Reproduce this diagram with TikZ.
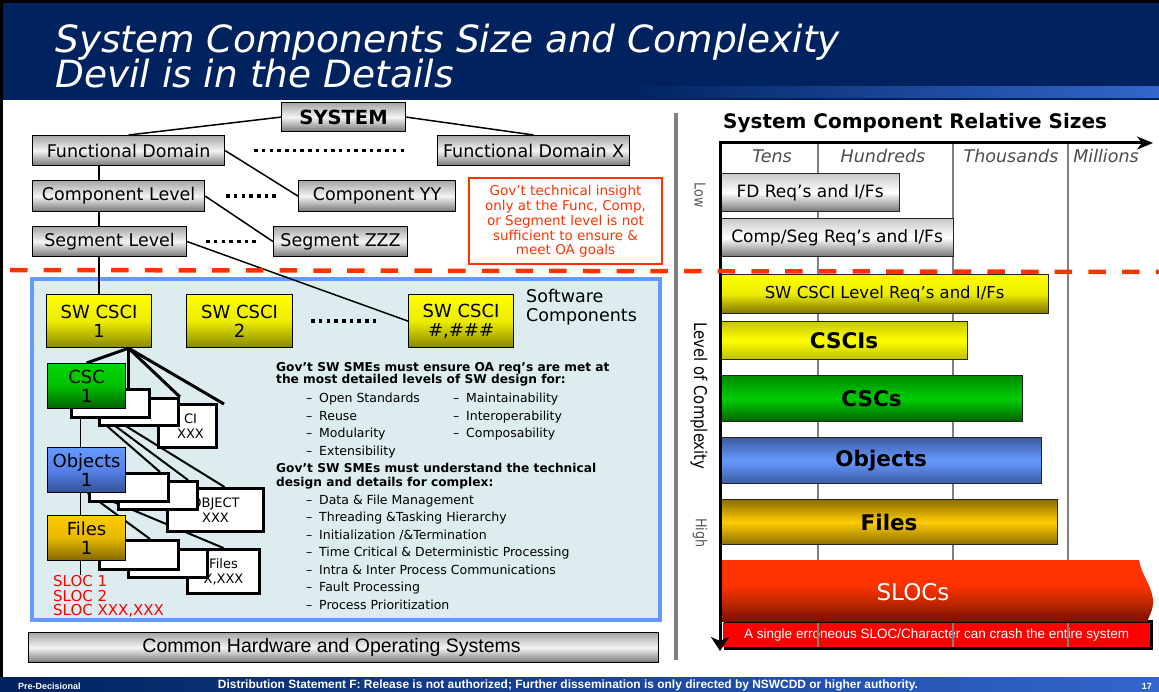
\documentclass[tikz,border=0pt]{standalone}
\usepackage{fontspec}
\setmainfont{DejaVu Sans}
\newfontfamily\arialfont{Liberation Sans}
\newfontfamily\condfont[FakeStretch=0.85]{DejaVu Sans}
\usetikzlibrary{arrows.meta}
\newcommand\fsz[2]{\fontsize{#1}{#2}\selectfont}
\newcommand\bdash{\makebox[13pt][l]{–}}
\definecolor{navy}{RGB}{0,34,94}
\definecolor{lblue}{RGB}{51,102,204}
\definecolor{ored}{RGB}{255,51,0}
\definecolor{panelfill}{RGB}{221,236,238}
\definecolor{panelline}{RGB}{102,153,255}
\definecolor{gtop}{RGB}{165,165,165}
\definecolor{gmid}{RGB}{244,244,244}
\definecolor{gbot}{RGB}{118,118,118}
\definecolor{ytop}{RGB}{255,255,0}
\definecolor{ymid}{RGB}{236,236,0}
\definecolor{ybot}{RGB}{135,135,0}
\definecolor{grtop}{RGB}{0,215,0}
\definecolor{grmid}{RGB}{0,190,0}
\definecolor{grbot}{RGB}{0,95,0}
\definecolor{btop}{RGB}{102,153,255}
\definecolor{bmid}{RGB}{85,130,230}
\definecolor{bbot}{RGB}{50,80,150}
\definecolor{otop}{RGB}{255,204,0}
\definecolor{omid}{RGB}{230,184,0}
\definecolor{obot}{RGB}{128,102,0}
\definecolor{slocred}{RGB}{255,51,0}
\definecolor{slocmid}{RGB}{200,40,0}
\definecolor{slocdark}{RGB}{115,18,0}
\pgfdeclareverticalshading{slocshade}{100bp}{color(0bp)=(slocdark); color(25bp)=(slocdark); color(42bp)=(slocmid); color(55bp)=(slocred); color(75bp)=(slocred); color(100bp)=(slocred)}
\pgfdeclarelayer{back}
\pgfdeclarelayer{bg}
\pgfsetlayers{back,bg,main}
\tikzset{
  box/.style={draw=black, line width=1.2pt, inner sep=0pt, anchor=north west, align=center},
  graybox/.style={box, top color=gtop, bottom color=gbot, middle color=gmid, font=\fsz{17.5}{19}},
  ybox/.style={box, top color=ytop, bottom color=ybot, middle color=ymid, font=\fsz{18}{19}},
  gbox/.style={box, top color=grtop, bottom color=grbot, middle color=grmid, font=\fsz{18}{19}},
  bbox/.style={box, top color=btop, bottom color=bbot, middle color=bmid, font=\fsz{18}{19}},
  obox/.style={box, top color=otop, bottom color=obot, middle color=omid, font=\fsz{18}{19}},
  wbox/.style={box, fill=white, line width=3pt, font=\fsz{13}{15}},
  conn/.style={draw=black, line width=1.5pt},
  fanline/.style={draw=black, line width=3pt},
  subline/.style={draw=black, line width=2pt},
  dotrow/.style={draw=black, line width=3.5pt, dash pattern=on 3.5pt off 4.2pt},
  hdr/.style={anchor=base west, inner sep=0pt, font=\fsz{12.2}{14}\bfseries},
  bul/.style={anchor=base west, inner sep=0pt, font=\fsz{12.5}{14}},
  collab/.style={anchor=base, inner sep=0pt, text=black!70, font=\fsz{17.5}{18}\itshape},
  rbar/.style={draw=black!85, line width=1.2pt, inner sep=0pt, anchor=north west},
  gridl/.style={draw=black!50, line width=1.2pt},
  axisline/.style={draw=black, line width=3pt}
}
\begin{document}
\begin{tikzpicture}[x=1pt,y=-1pt]
\useasboundingbox (0,0) rectangle (1159,692);
\begin{pgfonlayer}{back}
\fill[white] (0,0) rectangle (1159,692);
\end{pgfonlayer}
% frame and title bar
\fill[black] (0,0) rectangle (1159,3);
\fill[black] (0,0) rectangle (3,677);
\fill[navy] (3,3) rectangle (1159,100);
\fill[left color=navy, right color=lblue] (620,87) rectangle (1159,98);
\node[anchor=base west, text=white, font=\fsz{37.5}{37}\itshape, inner sep=0pt] (title1) at (55,53) {System Components Size and Complexity};
\node[anchor=base west, text=white, font=\fsz{37.5}{37}\itshape, inner sep=0pt] (title2) at (55,88) {Devil is in the Details};

% ---------- left: system tree ----------
\node[graybox, minimum width=124pt, minimum height=29pt, font=\fsz{19.5}{20}\bfseries] (sys) at (281,102) {SYSTEM};
\node[graybox, minimum width=192pt, minimum height=30pt] (fd) at (32,135) {Functional Domain};
\node[graybox, minimum width=192pt, minimum height=30pt] (fdx) at (437,135) {Functional Domain X};
\node[graybox, minimum width=172pt, minimum height=31pt] (cl) at (32,180) {Component Level};
\node[graybox, minimum width=157pt, minimum height=31pt] (cyy) at (298,180) {Component YY};
\node[graybox, minimum width=154pt, minimum height=30pt] (sl) at (32,226) {Segment Level};
\node[graybox, minimum width=134pt, minimum height=30pt] (szzz) at (273,226) {Segment ZZZ};
\draw[dotrow] ([xshift=29pt]fd.east) -- ([xshift=-29pt]fdx.west);
\draw[dotrow] ([xshift=21pt]cl.east) -- ([xshift=-18pt]cyy.west);
\draw[dotrow] ([xshift=19pt]sl.east) -- ([xshift=-16pt]szzz.west);

\node[draw=ored, line width=2pt, fill=white, anchor=north west, minimum width=193pt, minimum height=86pt, text=ored, align=center, font=\fsz{13.5}{14.8}, inner sep=0pt] (note) at (468,177.5) {Gov’t technical insight\\only at the Func, Comp,\\or Segment level is not\\sufficient to ensure \&\\meet OA goals};

% ---------- software components panel ----------
\begin{pgfonlayer}{back}
\node[draw=panelline, line width=4pt, fill=panelfill, anchor=north west, minimum width=628pt, minimum height=341pt, inner sep=0pt] (panel) at (30,277) {};
\end{pgfonlayer}

\node[ybox, minimum width=105pt, minimum height=53pt] (sw1) at (46,294) {SW CSCI\\1};
\node[ybox, minimum width=106pt, minimum height=53pt] (sw2) at (186,294) {SW CSCI\\2};
\node[ybox, minimum width=105pt, minimum height=53pt] (swn) at (408,294) {SW CSCI\\\#,\#\#\#};
\draw[dotrow] ([xshift=18pt]sw2.east) -- ([xshift=-30pt]swn.west);
\node[anchor=base west, inner sep=0pt, font=\fsz{17.5}{19}] (swc1) at (526,303) {Software};
\node[anchor=base west, inner sep=0pt, font=\fsz{17.5}{19}] (swc2) at (526,322) {Components};

% white stacked boxes (back to front)
\node[wbox, minimum width=58pt, minimum height=43pt] (wC) at (157,403) {\hspace*{6pt}CI\\\hspace*{6pt}XXX};
\node[wbox, minimum width=79pt, minimum height=27pt] (wB) at (98,397) {};
\node[wbox, minimum width=78pt, minimum height=28pt] (wA) at (70,388) {};
\node[wbox, minimum width=96pt, minimum height=43pt] (wF) at (166,487) {OBJECT\\XXX};
\node[wbox, minimum width=79pt, minimum height=28pt] (wE) at (117,480) {};
\node[wbox, minimum width=79pt, minimum height=28pt] (wD) at (88,472) {};
\node[wbox, minimum width=72pt, minimum height=44pt] (wI) at (186,548) {Files\\X,XXX};
\node[wbox, minimum width=79pt, minimum height=28pt] (wH) at (127,548) {};
\node[wbox, minimum width=79pt, minimum height=29pt] (wG) at (98,539) {};

\node[gbox, minimum width=78pt, minimum height=45pt] (csc1) at (47,363) {CSC\\1};
\node[bbox, minimum width=78pt, minimum height=45pt] (obj1) at (47,447) {Objects\\1};
\node[obox, minimum width=78pt, minimum height=45pt] (files1) at (47,515) {Files\\1};
\node[anchor=north west, inner sep=0pt, align=left, text=red, font=\fsz{15}{14.8}] (sloc) at (53,575) {SLOC 1\\SLOC 2\\SLOC XXX,XXX};

\coordinate (fan) at ([xshift=29.5pt]sw1.south);
\coordinate (fanend) at (224,404);
\begin{pgfonlayer}{bg}
\draw[conn] (sys.west) -- (fd.north);
\draw[conn] (sys.east) -- (fdx.north);
\draw[conn] (fd.east) -- (cyy.west);
\draw[conn] (cl.east) -- (szzz.west);
\draw[conn] (sl.east) -- (swn.west);
\draw[conn] (fd.south -| sw1.north) -- (cl.north -| sw1.north);
\draw[conn] (cl.south -| sw1.north) -- (sl.north -| sw1.north);
\draw[conn] (sl.south -| sw1.north) -- (sw1.north);
\draw[fanline] (fan) -- (csc1.north);
\draw[fanline] (fan) -- (fan |- wA.north);
\draw[fanline] (fan) -- (wB.north east);
\draw[fanline] (fan) -- (fanend);
\draw[subline] ([xshift=1pt]csc1.south) -- ([xshift=-10pt]wD.north east);
\draw[subline] ([xshift=6pt]csc1.south) -- ([xshift=-11pt]wE.north east);
\draw[subline] ([xshift=12pt]csc1.south) -- ([xshift=9pt]wF.north);
\draw[subline] ([xshift=1pt]obj1.south) -- ([xshift=-30pt]wG.north east);
\draw[subline] ([xshift=6pt]obj1.south) -- (wI.north);
\draw[conn] ([xshift=-6pt]csc1.south) -- ([xshift=-6pt]obj1.north);
\draw[conn] ([xshift=-6pt]obj1.south) -- ([xshift=-6pt]files1.north);
\draw[conn] ([xshift=-6pt]files1.south) -- ([xshift=-6pt]files1.south |- sloc.north);
\end{pgfonlayer}

% text block
\node[hdr] (h1a) at (276,371) {Gov’t SW SMEs must ensure OA req’s are met at};
\node[hdr] (h1b) at (276,384) {the most detailed levels of SW design for:};
\node[bul] (b1) at (306,402.5) {\bdash Open Standards};
\node[bul] (b2) at (306,420) {\bdash Reuse};
\node[bul] (b3) at (306,437.5) {\bdash Modularity};
\node[bul] (b4) at (306,455) {\bdash Extensibility};
\node[bul] (b5) at (453,402.5) {\bdash Maintainability};
\node[bul] (b6) at (453,420) {\bdash Interoperability};
\node[bul] (b7) at (453,437.5) {\bdash Composability};
\node[hdr] (h2a) at (276,472.5) {Gov’t SW SMEs must understand the technical};
\node[hdr] (h2b) at (276,486.5) {design and details for complex:};
\node[bul] (c1) at (306,504) {\bdash Data \& File Management};
\node[bul] (c2) at (306,521.5) {\bdash Threading \&Tasking Hierarchy};
\node[bul] (c3) at (306,539) {\bdash Initialization /\&Termination};
\node[bul] (c4) at (306,556.5) {\bdash Time Critical \& Deterministic Processing};
\node[bul] (c5) at (306,574) {\bdash Intra \& Inter Process Communications};
\node[bul] (c6) at (306,591.5) {\bdash Fault Processing};
\node[bul] (c7) at (306,609) {\bdash Process Prioritization};

\node[graybox, minimum width=630pt, minimum height=30pt, font=\arialfont\fsz{19.5}{20}] (hw) at (28,632) {\hspace*{-24pt}Common Hardware and Operating Systems};

% separator
\draw[draw=black!50, line width=3.5pt] (676,113) -- (676,660);

% ---------- right: relative sizes ----------
\node[anchor=base west, inner sep=0pt, font=\fsz{20}{20}\bfseries] (rtitle) at (723,129) {System Component Relative Sizes};
\coordinate (origin) at (720,143);
\coordinate (xend) at (1153,143);
\coordinate (yend) at (720,651);
\begin{pgfonlayer}{bg}
\draw[gridl] (818,143) -- (818,650);
\draw[gridl] (953,141) -- (953,650);
\draw[gridl] (1068,141) -- (1068,650);
\end{pgfonlayer}
\node[collab] (ctens) at (772,163) {Tens};
\node[collab] (chund) at (883,163) {Hundreds};
\node[collab] (cthou) at (1011,163) {Thousands};
\node[collab] (cmill) at (1106,163) {Millions};

\node[rbar, top color=gtop!60, bottom color=gbot, middle color=white, minimum width=179pt, minimum height=38pt, font=\fsz{17}{18}] (fdbar) at (720,173) {FD Req’s and I/Fs};
\node[rbar, top color=gtop!60, bottom color=gbot, middle color=white, minimum width=233pt, minimum height=38pt, font=\fsz{17}{18}] (compbar) at (720,218) {Comp/Seg Req’s and I/Fs};
\node[rbar, top color=ytop, bottom color={rgb,255:red,125;green,112;blue,0}, middle color=ymid, minimum width=328pt, minimum height=39pt, font=\fsz{16.5}{18}] (swbar) at (720,274) {SW CSCI Level Req’s and I/Fs};
\node[rbar, top color={rgb,255:red,200;green,200;blue,0}, bottom color={rgb,255:red,190;green,190;blue,0}, middle color=ytop, minimum width=247pt, minimum height=38pt, font=\fsz{21.5}{22}\bfseries] (cscibar) at (720,321) {CSCIs};
\node[rbar, top color={rgb,255:red,0;green,140;blue,0}, bottom color={rgb,255:red,0;green,100;blue,0}, middle color={rgb,255:red,0;green,204;blue,0}, minimum width=302pt, minimum height=46pt, font=\fsz{21.5}{22}\bfseries] (cscbar) at (720,375) {CSCs};
\node[rbar, top color={rgb,255:red,60;green,92;blue,160}, bottom color={rgb,255:red,60;green,92;blue,160}, middle color=btop, minimum width=321pt, minimum height=46pt, font=\fsz{21.5}{22}\bfseries] (objbar) at (720,437) {Objects};
\node[rbar, top color={rgb,255:red,140;green,110;blue,0}, bottom color={rgb,255:red,140;green,110;blue,0}, middle color=otop, minimum width=337pt, minimum height=45pt, font=\fsz{21.5}{22}\bfseries] (filesbar) at (720,499) {Files};

\fill[black] (724,620) rectangle (1153,650);
\path[shading=slocshade] (720,560) -- (1139,560) .. controls (1141,575) and (1154,588) .. (1153,604) .. controls (1152,613) and (1148,618) .. (1147,622) -- (720,622) -- cycle;
\node[anchor=base, inner sep=0pt, text=white, font=\fsz{23}{23}] (slocs) at (913,600) {SLOCs};
\node[fill=red, anchor=north west, minimum width=427pt, minimum height=24pt, inner sep=0pt, text=white, font=\arialfont\fsz{13.5}{14}] (banner) at (723,623) {A single erroneous SLOC/Character can crash the entire system};
\draw[gridl] (818,623) -- (818,647);
\draw[gridl] (953,623) -- (953,647);
\draw[gridl] (1068,623) -- (1068,647);

\draw[axisline, -{Stealth[length=16pt,width=13pt,inset=5pt]}] ([xshift=-1.5pt]origin) -- (xend);
\draw[axisline, -{Stealth[length=14pt,width=18pt,inset=4pt]}] (origin) -- (yend);

\node[rotate=-90, inner sep=0pt, text=black!65, font=\condfont\fsz{15}{15}] (low) at (700,195) {Low};
\node[rotate=-90, inner sep=0pt, font=\condfont\fsz{17.5}{18}] (loc) at (699,396) {Level of Complexity};
\node[rotate=-90, inner sep=0pt, text=black!65, font=\condfont\fsz{15}{15}] (high) at (700,533) {High};

% red dashed boundary
\draw[draw=ored, line width=4.5pt, dash pattern=on 17.5pt off 16.2pt] (10,270) -- (1159,272);

% footer
\fill[left color=navy, right color=lblue] (0,677) rectangle (1159,692);
\node[anchor=base west, inner sep=0pt, text=white, font=\arialfont\bfseries\fsz{9}{9}] (pd) at (18,689) {Pre-Decisional};
\node[anchor=base, inner sep=0pt, text=white, font=\arialfont\bfseries\fsz{9}{9}] (dist) at (568,688) {\resizebox{700pt}{!}{Distribution Statement F: Release is not authorized; Further dissemination is only directed by NSWCDD or higher authority.}};
\node[anchor=base east, inner sep=0pt, text=white, font=\arialfont\bfseries\fsz{9}{9}] (pg) at (1152,689) {17};
\end{tikzpicture}
\end{document}
